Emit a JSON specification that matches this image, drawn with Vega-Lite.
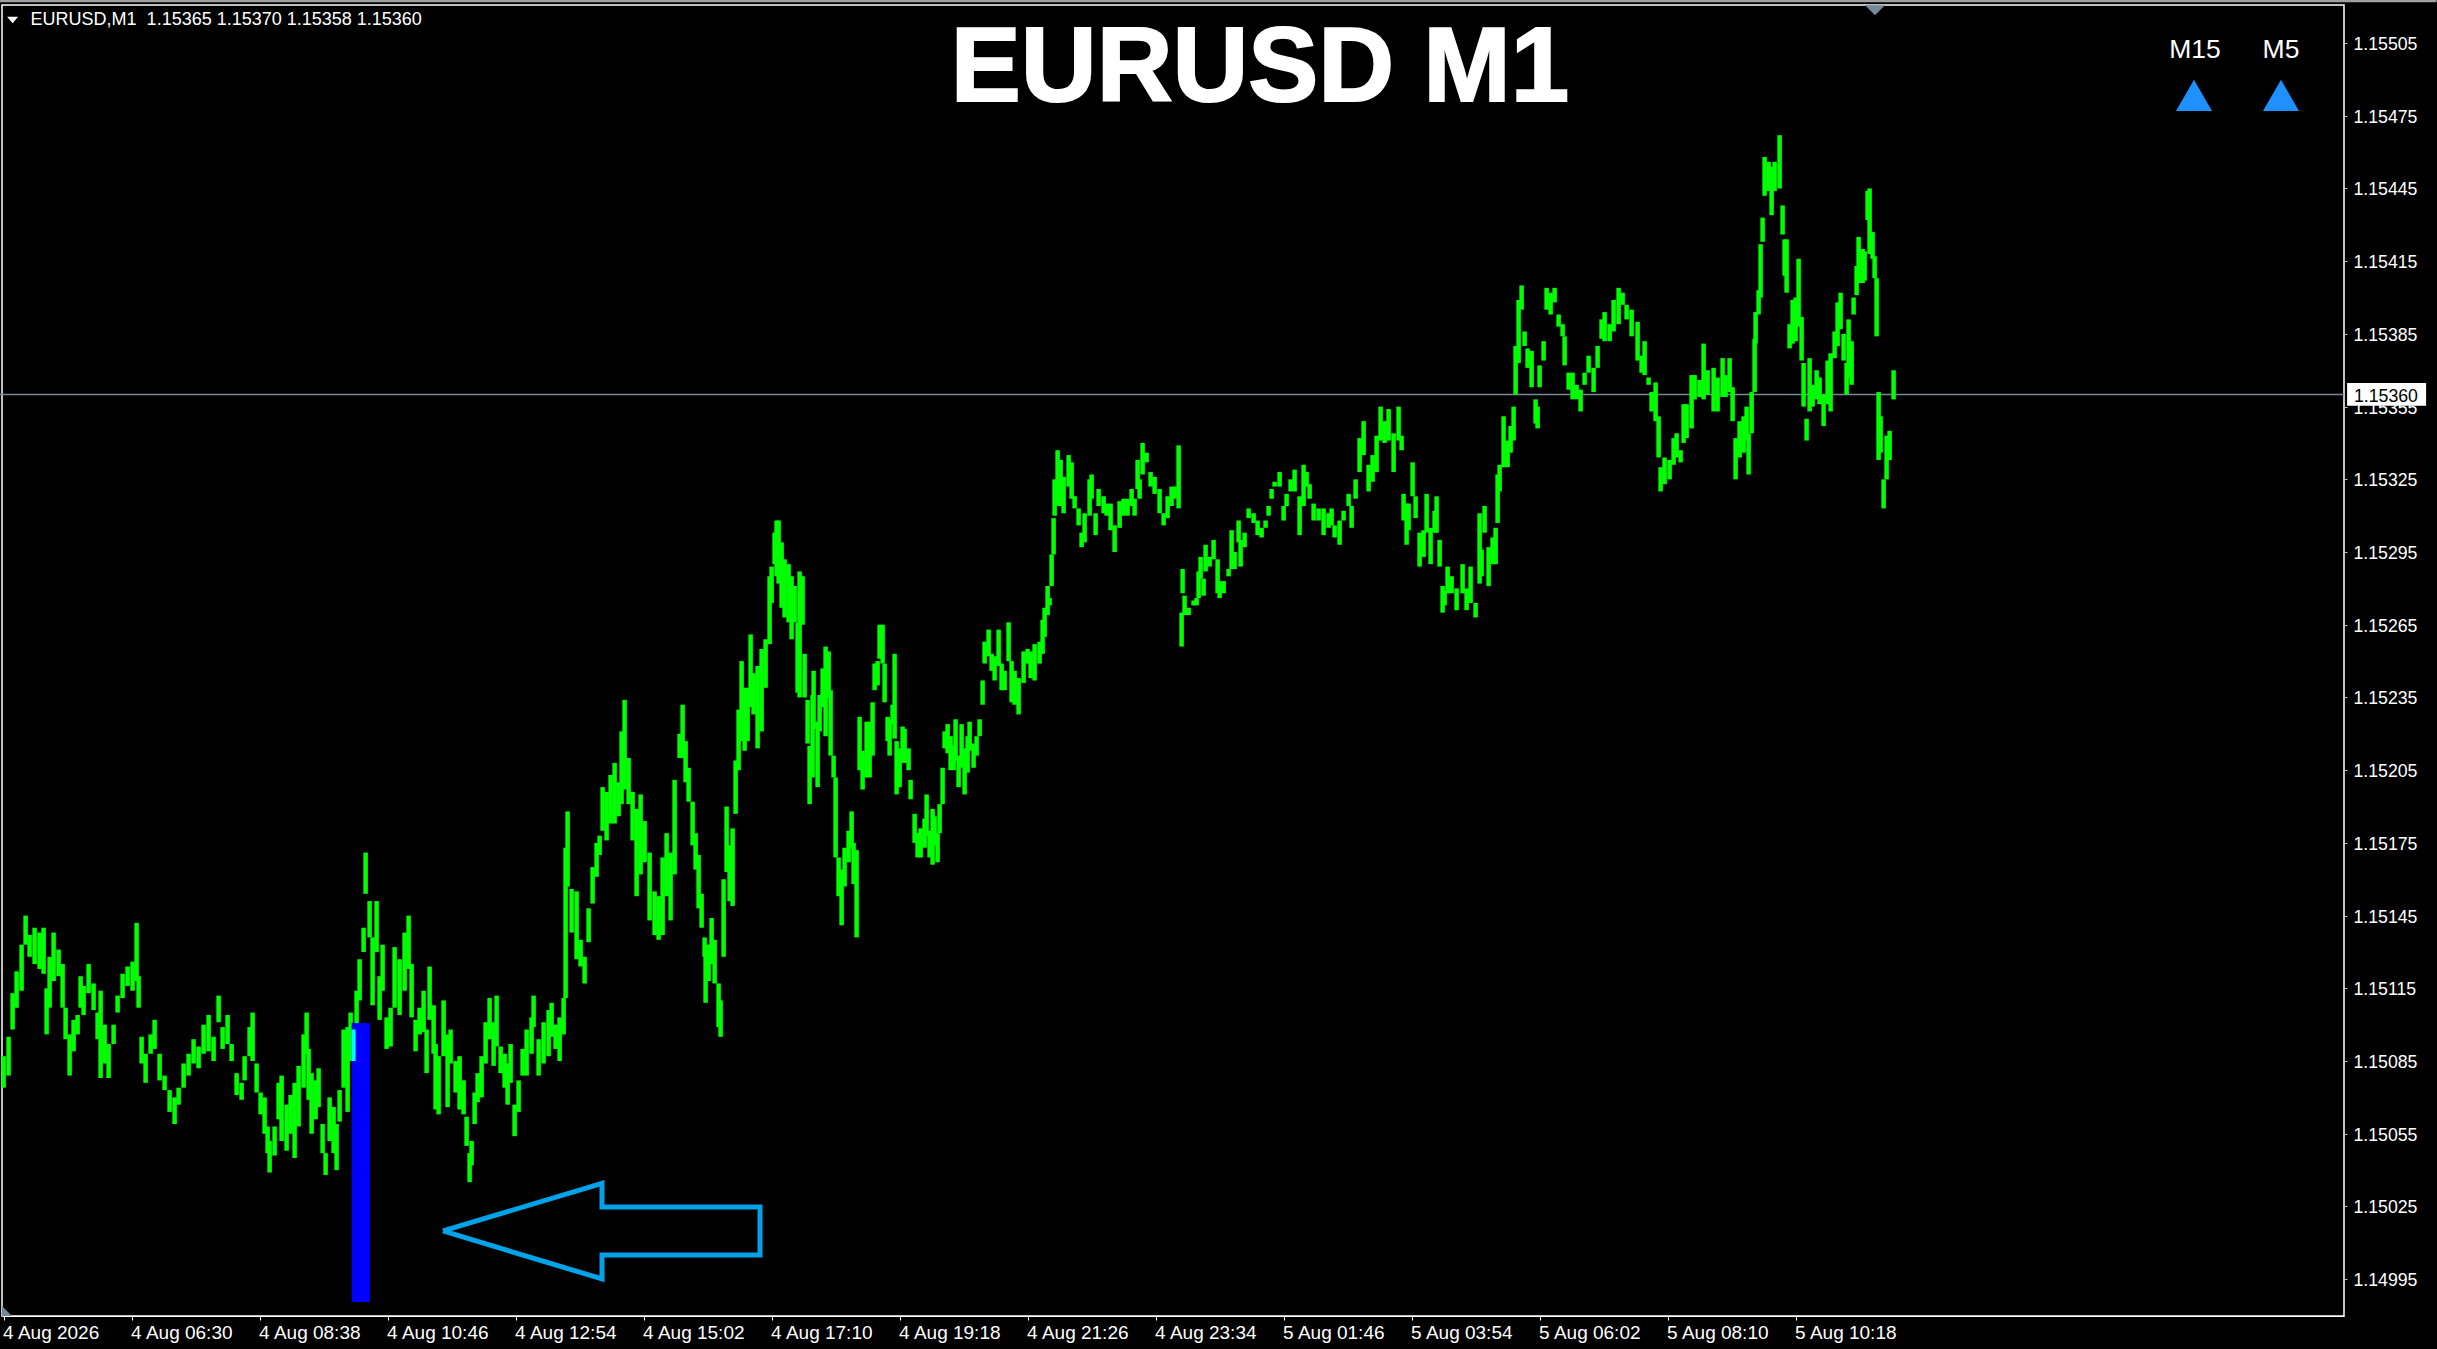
{"$schema":"https://vega.github.io/schema/vega-lite/v6.json","autosize":{"type":"none"},"padding":{"left":2,"top":5,"right":93,"bottom":33},"width":2342,"height":1311,"background":"#000000","view":{"stroke":"#ffffff","strokeWidth":1.5,"fill":"#000000"},
"encoding":{"x":{"field":"bar","type":"quantitative","scale":{"domain":[-1.6,2340.4],"nice":false,"zero":false},"axis":{"title":null,"grid":false,"values":[0,128,256,384,512,640,768,896,1024,1152,1280,1408,1536,1664,1792],"labelExpr":"{'0':'4 Aug 2026','128':'4 Aug 06:30','256':'4 Aug 08:38','384':'4 Aug 10:46','512':'4 Aug 12:54','640':'4 Aug 15:02','768':'4 Aug 17:10','896':'4 Aug 19:18','1024':'4 Aug 21:26','1152':'4 Aug 23:34','1280':'5 Aug 01:46','1408':'5 Aug 03:54','1536':'5 Aug 06:02','1664':'5 Aug 08:10','1792':'5 Aug 10:18'}[datum.value]","labelAlign":"left","labelOffset":-1,"labelFlush":false,"labelOverlap":false,"labelColor":"#ffffff","labelFont":"Liberation Sans","labelFontSize":19,"labelPadding":3,"tickColor":"#ffffff","tickSize":4,"domainColor":"#ffffff"}},
"y":{"field":"price","type":"quantitative","scale":{"domain":[1.149798,1.155207],"nice":false,"zero":false},"axis":{"title":null,"grid":false,"orient":"right","values":[1.14995,1.15025,1.15055,1.15085,1.15115,1.15145,1.15175,1.15205,1.15235,1.15265,1.15295,1.15325,1.15355,1.15385,1.15415,1.15445,1.15475,1.15505],"format":".5f","labelColor":"#ffffff","labelFont":"Liberation Sans","labelFontSize":17.7,"labelPadding":6,"labelOffset":1.5,"labelFlush":false,"labelOverlap":false,"tickColor":"#c0c0c0","tickSize":3,"domainColor":"#c0c0c0"}}},
"layer":[
{"data":{"values":[{"bar":-4,"price":1.155228,"top":1.155218,"end":2433}]},"mark":{"type":"rect","color":"#a0a0a0"},"encoding":{"x2":{"field":"end"},"y2":{"field":"top"}}},
{"data":{"values":[{"bar":0,"price":1.15360}]},"mark":{"type":"rule","color":"#778899","strokeWidth":1.5},"encoding":{"x":{"datum":-4},"x2":{"datum":2340.4}}},
{"data":{"name":"bars","values":[
{"bar":0,"price":1.15074,"top":1.15087},{"bar":5,"price":1.15079,"top":1.15095},{"bar":9,"price":1.15098,"top":1.15113},{"bar":13,"price":1.15107,"top":1.15122},{"bar":18,"price":1.15114,"top":1.15133},{"bar":22,"price":1.15133,"top":1.15145},{"bar":26,"price":1.15128,"top":1.15137},{"bar":31,"price":1.15125,"top":1.15140},{"bar":36,"price":1.15123,"top":1.15138},{"bar":40,"price":1.15121,"top":1.15140},{"bar":43,"price":1.15096,"top":1.15115},{"bar":46,"price":1.15107,"top":1.15128},{"bar":50,"price":1.15118,"top":1.15138},{"bar":55,"price":1.15120,"top":1.15131},{"bar":59,"price":1.15107,"top":1.15125},{"bar":62,"price":1.15094,"top":1.15107},{"bar":66,"price":1.15079,"top":1.15096},{"bar":70,"price":1.15089,"top":1.15102},{"bar":74,"price":1.15096,"top":1.15104},{"bar":77,"price":1.15107,"top":1.15120},{"bar":80,"price":1.15104,"top":1.15116},{"bar":85,"price":1.15113,"top":1.15125},{"bar":90,"price":1.15106,"top":1.15117},{"bar":94,"price":1.15094,"top":1.15105},{"bar":97,"price":1.15078,"top":1.15114},{"bar":101,"price":1.15084,"top":1.15100},{"bar":105,"price":1.15078,"top":1.15092},{"bar":110,"price":1.15092,"top":1.15100},{"bar":114,"price":1.15105,"top":1.15112},{"bar":119,"price":1.15111,"top":1.15121},{"bar":124,"price":1.15116,"top":1.15124},{"bar":129,"price":1.15114,"top":1.15126},{"bar":133,"price":1.15118,"top":1.15142},{"bar":135,"price":1.15107,"top":1.15120},{"bar":138,"price":1.15084,"top":1.15095},{"bar":142,"price":1.15076,"top":1.15088},{"bar":147,"price":1.15088,"top":1.15096},{"bar":151,"price":1.15090,"top":1.15102},{"bar":156,"price":1.15077,"top":1.15088},{"bar":161,"price":1.15073,"top":1.15079},{"bar":166,"price":1.15064,"top":1.15073},{"bar":171,"price":1.15059,"top":1.15070},{"bar":175,"price":1.15067,"top":1.15074},{"bar":180,"price":1.15074,"top":1.15084},{"bar":185,"price":1.15079,"top":1.15088},{"bar":190,"price":1.15084,"top":1.15094},{"bar":195,"price":1.15082,"top":1.15091},{"bar":200,"price":1.15088,"top":1.15100},{"bar":205,"price":1.15089,"top":1.15104},{"bar":210,"price":1.15085,"top":1.15095},{"bar":215,"price":1.15101,"top":1.15112},{"bar":219,"price":1.15090,"top":1.15099},{"bar":224,"price":1.15092,"top":1.15104},{"bar":228,"price":1.15085,"top":1.15092},{"bar":233,"price":1.15071,"top":1.15080},{"bar":238,"price":1.15069,"top":1.15076},{"bar":241,"price":1.15077,"top":1.15087},{"bar":246,"price":1.15087,"top":1.15099},{"bar":249,"price":1.15085,"top":1.15105},{"bar":253,"price":1.15072,"top":1.15084},{"bar":257,"price":1.15063,"top":1.15072},{"bar":261,"price":1.15055,"top":1.15070},{"bar":264,"price":1.15047,"top":1.15058},{"bar":266,"price":1.15039,"top":1.15052},{"bar":271,"price":1.15046,"top":1.15058},{"bar":275,"price":1.15061,"top":1.15076},{"bar":278,"price":1.15052,"top":1.15079},{"bar":283,"price":1.15048,"top":1.15067},{"bar":287,"price":1.15055,"top":1.15071},{"bar":291,"price":1.15045,"top":1.15076},{"bar":295,"price":1.15058,"top":1.15083},{"bar":300,"price":1.15074,"top":1.15096},{"bar":303,"price":1.15088,"top":1.15105},{"bar":305,"price":1.15069,"top":1.15090},{"bar":308,"price":1.15055,"top":1.15080},{"bar":312,"price":1.15061,"top":1.15077},{"bar":315,"price":1.15066,"top":1.15082},{"bar":319,"price":1.15047,"top":1.15059},{"bar":322,"price":1.15038,"top":1.15047},{"bar":326,"price":1.15052,"top":1.15070},{"bar":330,"price":1.15047,"top":1.15066},{"bar":333,"price":1.15040,"top":1.15059},{"bar":336,"price":1.15060,"top":1.15073},{"bar":340,"price":1.15074,"top":1.15098},{"bar":344,"price":1.15064,"top":1.15099},{"bar":347,"price":1.15085,"top":1.15105},{"bar":353,"price":1.15097,"top":1.15114},{"bar":356,"price":1.15110,"top":1.15127},{"bar":360,"price":1.15130,"top":1.15140},{"bar":362,"price":1.15154,"top":1.15171},{"bar":366,"price":1.15136,"top":1.15151},{"bar":369,"price":1.15108,"top":1.15136},{"bar":373,"price":1.15130,"top":1.15151},{"bar":376,"price":1.15102,"top":1.15120},{"bar":379,"price":1.15114,"top":1.15133},{"bar":383,"price":1.15090,"top":1.15103},{"bar":387,"price":1.15091,"top":1.15107},{"bar":391,"price":1.15107,"top":1.15132},{"bar":396,"price":1.15104,"top":1.15127},{"bar":401,"price":1.15114,"top":1.15138},{"bar":405,"price":1.15123,"top":1.15145},{"bar":408,"price":1.15103,"top":1.15125},{"bar":412,"price":1.15089,"top":1.15102},{"bar":416,"price":1.15096,"top":1.15107},{"bar":420,"price":1.15097,"top":1.15114},{"bar":423,"price":1.15080,"top":1.15098},{"bar":426,"price":1.15102,"top":1.15124},{"bar":430,"price":1.15088,"top":1.15108},{"bar":432,"price":1.15065,"top":1.15092},{"bar":435,"price":1.15063,"top":1.15087},{"bar":440,"price":1.15087,"top":1.15110},{"bar":444,"price":1.15066,"top":1.15096},{"bar":447,"price":1.15084,"top":1.15098},{"bar":452,"price":1.15072,"top":1.15085},{"bar":456,"price":1.15065,"top":1.15087},{"bar":460,"price":1.15063,"top":1.15077},{"bar":463,"price":1.15050,"top":1.15062},{"bar":466,"price":1.15035,"top":1.15047},{"bar":468,"price":1.15042,"top":1.15052},{"bar":471,"price":1.15059,"top":1.15072},{"bar":474,"price":1.15068,"top":1.15080},{"bar":478,"price":1.15070,"top":1.15087},{"bar":482,"price":1.15084,"top":1.15101},{"bar":486,"price":1.15094,"top":1.15111},{"bar":490,"price":1.15083,"top":1.15101},{"bar":493,"price":1.15091,"top":1.15112},{"bar":497,"price":1.15080,"top":1.15091},{"bar":501,"price":1.15074,"top":1.15088},{"bar":504,"price":1.15067,"top":1.15084},{"bar":507,"price":1.15076,"top":1.15092},{"bar":511,"price":1.15054,"top":1.15067},{"bar":515,"price":1.15064,"top":1.15077},{"bar":519,"price":1.15079,"top":1.15090},{"bar":523,"price":1.15079,"top":1.15098},{"bar":528,"price":1.15088,"top":1.15103},{"bar":530,"price":1.15099,"top":1.15112},{"bar":535,"price":1.15079,"top":1.15094},{"bar":540,"price":1.15084,"top":1.15101},{"bar":545,"price":1.15087,"top":1.15106},{"bar":548,"price":1.15095,"top":1.15109},{"bar":552,"price":1.15090,"top":1.15100},{"bar":556,"price":1.15085,"top":1.15103},{"bar":560,"price":1.15096,"top":1.15111},{"bar":562,"price":1.15111,"top":1.15173},{"bar":564,"price":1.15157,"top":1.15188},{"bar":568,"price":1.15138,"top":1.15156},{"bar":573,"price":1.15127,"top":1.15155},{"bar":577,"price":1.15124,"top":1.15135},{"bar":581,"price":1.15117,"top":1.15128},{"bar":585,"price":1.15134,"top":1.15148},{"bar":589,"price":1.15150,"top":1.15165},{"bar":593,"price":1.15161,"top":1.15175},{"bar":596,"price":1.15170,"top":1.15178},{"bar":599,"price":1.15180,"top":1.15198},{"bar":603,"price":1.15176,"top":1.15196},{"bar":607,"price":1.15183,"top":1.15203},{"bar":611,"price":1.15183,"top":1.15208},{"bar":615,"price":1.15186,"top":1.15200},{"bar":618,"price":1.15191,"top":1.15221},{"bar":621,"price":1.15197,"top":1.15234},{"bar":625,"price":1.15191,"top":1.15210},{"bar":629,"price":1.15176,"top":1.15196},{"bar":633,"price":1.15153,"top":1.15189},{"bar":637,"price":1.15162,"top":1.15195},{"bar":641,"price":1.15167,"top":1.15184},{"bar":646,"price":1.15143,"top":1.15171},{"bar":651,"price":1.15137,"top":1.15155},{"bar":655,"price":1.15135,"top":1.15153},{"bar":659,"price":1.15137,"top":1.15169},{"bar":663,"price":1.15153,"top":1.15179},{"bar":667,"price":1.15143,"top":1.15171},{"bar":671,"price":1.15162,"top":1.15201},{"bar":676,"price":1.15210,"top":1.15220},{"bar":679,"price":1.15210,"top":1.15232},{"bar":682,"price":1.15200,"top":1.15217},{"bar":685,"price":1.15192,"top":1.15206},{"bar":689,"price":1.15174,"top":1.15192},{"bar":692,"price":1.15164,"top":1.15179},{"bar":695,"price":1.15148,"top":1.15170},{"bar":698,"price":1.15140,"top":1.15154},{"bar":701,"price":1.15128,"top":1.15136},{"bar":702,"price":1.15109,"top":1.15130},{"bar":705,"price":1.15118,"top":1.15133},{"bar":708,"price":1.15125,"top":1.15144},{"bar":711,"price":1.15117,"top":1.15135},{"bar":715,"price":1.15099,"top":1.15117},{"bar":717,"price":1.15095,"top":1.15110},{"bar":720,"price":1.15128,"top":1.15160},{"bar":723,"price":1.15163,"top":1.15190},{"bar":726,"price":1.15151,"top":1.15174},{"bar":729,"price":1.15149,"top":1.15181},{"bar":732,"price":1.15187,"top":1.15209},{"bar":735,"price":1.15205,"top":1.15230},{"bar":738,"price":1.15217,"top":1.15250},{"bar":741,"price":1.15213,"top":1.15239},{"bar":744,"price":1.15217,"top":1.15239},{"bar":747,"price":1.15231,"top":1.15261},{"bar":750,"price":1.15228,"top":1.15245},{"bar":754,"price":1.15214,"top":1.15248},{"bar":758,"price":1.15221,"top":1.15255},{"bar":762,"price":1.15239,"top":1.15259},{"bar":766,"price":1.15257,"top":1.15285},{"bar":768,"price":1.15274,"top":1.15289},{"bar":771,"price":1.15290,"top":1.15303},{"bar":773,"price":1.15285,"top":1.15308},{"bar":775,"price":1.15282,"top":1.15308},{"bar":778,"price":1.15272,"top":1.15299},{"bar":781,"price":1.15268,"top":1.15292},{"bar":785,"price":1.15266,"top":1.15290},{"bar":788,"price":1.15259,"top":1.15285},{"bar":791,"price":1.15266,"top":1.15281},{"bar":794,"price":1.15237,"top":1.15266},{"bar":796,"price":1.15235,"top":1.15287},{"bar":799,"price":1.15265,"top":1.15285},{"bar":801,"price":1.15235,"top":1.15253},{"bar":804,"price":1.15216,"top":1.15234},{"bar":806,"price":1.15191,"top":1.15215},{"bar":809,"price":1.15202,"top":1.15236},{"bar":810,"price":1.15222,"top":1.15246},{"bar":814,"price":1.15198,"top":1.15225},{"bar":816,"price":1.15221,"top":1.15236},{"bar":819,"price":1.15231,"top":1.15247},{"bar":822,"price":1.15219,"top":1.15256},{"bar":825,"price":1.15235,"top":1.15254},{"bar":827,"price":1.15211,"top":1.15238},{"bar":830,"price":1.15202,"top":1.15211},{"bar":832,"price":1.15169,"top":1.15202},{"bar":835,"price":1.15153,"top":1.15169},{"bar":838,"price":1.15141,"top":1.15164},{"bar":841,"price":1.15157,"top":1.15173},{"bar":845,"price":1.15167,"top":1.15180},{"bar":848,"price":1.15173,"top":1.15188},{"bar":850,"price":1.15158,"top":1.15175},{"bar":853,"price":1.15136,"top":1.15172},{"bar":856,"price":1.15205,"top":1.15227},{"bar":859,"price":1.15197,"top":1.15213},{"bar":863,"price":1.15202,"top":1.15225},{"bar":866,"price":1.15202,"top":1.15225},{"bar":869,"price":1.15211,"top":1.15233},{"bar":871,"price":1.15238,"top":1.15249},{"bar":874,"price":1.15240,"top":1.15250},{"bar":876,"price":1.15251,"top":1.15265},{"bar":879,"price":1.15249,"top":1.15265},{"bar":881,"price":1.15233,"top":1.15249},{"bar":884,"price":1.15217,"top":1.15227},{"bar":886,"price":1.15211,"top":1.15226},{"bar":889,"price":1.15224,"top":1.15232},{"bar":891,"price":1.15218,"top":1.15253},{"bar":893,"price":1.15195,"top":1.15217},{"bar":896,"price":1.15198,"top":1.15214},{"bar":899,"price":1.15208,"top":1.15223},{"bar":901,"price":1.15208,"top":1.15222},{"bar":905,"price":1.15205,"top":1.15214},{"bar":907,"price":1.15193,"top":1.15201},{"bar":911,"price":1.15175,"top":1.15187},{"bar":914,"price":1.15169,"top":1.15179},{"bar":917,"price":1.15169,"top":1.15181},{"bar":921,"price":1.15173,"top":1.15185},{"bar":923,"price":1.15178,"top":1.15195},{"bar":926,"price":1.15169,"top":1.15180},{"bar":929,"price":1.15166,"top":1.15189},{"bar":931,"price":1.15174,"top":1.15186},{"bar":934,"price":1.15167,"top":1.15179},{"bar":936,"price":1.15179,"top":1.15191},{"bar":939,"price":1.15191,"top":1.15206},{"bar":941,"price":1.15214,"top":1.15221},{"bar":944,"price":1.15212,"top":1.15224},{"bar":947,"price":1.15205,"top":1.15219},{"bar":950,"price":1.15205,"top":1.15215},{"bar":952,"price":1.15209,"top":1.15226},{"bar":955,"price":1.15198,"top":1.15211},{"bar":958,"price":1.15206,"top":1.15224},{"bar":961,"price":1.15195,"top":1.15214},{"bar":964,"price":1.15204,"top":1.15219},{"bar":966,"price":1.15213,"top":1.15225},{"bar":970,"price":1.15206,"top":1.15216},{"bar":973,"price":1.15211,"top":1.15219},{"bar":976,"price":1.15219,"top":1.15226},{"bar":979,"price":1.15232,"top":1.15242},{"bar":981,"price":1.15249,"top":1.15258},{"bar":985,"price":1.15252,"top":1.15263},{"bar":988,"price":1.15246,"top":1.15253},{"bar":991,"price":1.15242,"top":1.15252},{"bar":995,"price":1.15248,"top":1.15263},{"bar":998,"price":1.15238,"top":1.15249},{"bar":1001,"price":1.15238,"top":1.15246},{"bar":1005,"price":1.15250,"top":1.15266},{"bar":1008,"price":1.15233,"top":1.15250},{"bar":1011,"price":1.15232,"top":1.15246},{"bar":1015,"price":1.15228,"top":1.15243},{"bar":1020,"price":1.15241,"top":1.15254},{"bar":1024,"price":1.15249,"top":1.15255},{"bar":1027,"price":1.15243,"top":1.15254},{"bar":1031,"price":1.15242,"top":1.15257},{"bar":1036,"price":1.15249,"top":1.15258},{"bar":1039,"price":1.15253,"top":1.15267},{"bar":1041,"price":1.15260,"top":1.15272},{"bar":1044,"price":1.15269,"top":1.15281},{"bar":1046,"price":1.15273,"top":1.15276},{"bar":1048,"price":1.15281,"top":1.15294},{"bar":1050,"price":1.15294,"top":1.15309},{"bar":1051,"price":1.15310,"top":1.15325},{"bar":1054,"price":1.15314,"top":1.15337},{"bar":1057,"price":1.15314,"top":1.15333},{"bar":1060,"price":1.15311,"top":1.15326},{"bar":1065,"price":1.15322,"top":1.15335},{"bar":1068,"price":1.15317,"top":1.15332},{"bar":1071,"price":1.15313,"top":1.15318},{"bar":1075,"price":1.15306,"top":1.15313},{"bar":1078,"price":1.15297,"top":1.15303},{"bar":1081,"price":1.15299,"top":1.15311},{"bar":1086,"price":1.15310,"top":1.15325},{"bar":1088,"price":1.15317,"top":1.15327},{"bar":1092,"price":1.15302,"top":1.15311},{"bar":1095,"price":1.15314,"top":1.15321},{"bar":1100,"price":1.15311,"top":1.15318},{"bar":1103,"price":1.15310,"top":1.15315},{"bar":1107,"price":1.15304,"top":1.15315},{"bar":1111,"price":1.15295,"top":1.15306},{"bar":1116,"price":1.15305,"top":1.15316},{"bar":1120,"price":1.15310,"top":1.15317},{"bar":1124,"price":1.15310,"top":1.15317},{"bar":1128,"price":1.15314,"top":1.15321},{"bar":1131,"price":1.15310,"top":1.15317},{"bar":1134,"price":1.15321,"top":1.15333},{"bar":1136,"price":1.15317,"top":1.15325},{"bar":1139,"price":1.15327,"top":1.15340},{"bar":1143,"price":1.15332,"top":1.15336},{"bar":1147,"price":1.15322,"top":1.15328},{"bar":1151,"price":1.15319,"top":1.15326},{"bar":1156,"price":1.15311,"top":1.15321},{"bar":1160,"price":1.15306,"top":1.15311},{"bar":1164,"price":1.15309,"top":1.15318},{"bar":1168,"price":1.15314,"top":1.15322},{"bar":1171,"price":1.15317,"top":1.15322},{"bar":1175,"price":1.15313,"top":1.15339},{"bar":1178,"price":1.15256,"top":1.15270},{"bar":1179,"price":1.15278,"top":1.15288},{"bar":1181,"price":1.15269,"top":1.15277},{"bar":1185,"price":1.15269,"top":1.15272},{"bar":1190,"price":1.15273,"top":1.15275},{"bar":1193,"price":1.15273,"top":1.15276},{"bar":1195,"price":1.15276,"top":1.15287},{"bar":1197,"price":1.15284,"top":1.15293},{"bar":1200,"price":1.15277,"top":1.15284},{"bar":1202,"price":1.15287,"top":1.15298},{"bar":1206,"price":1.15289,"top":1.15293},{"bar":1210,"price":1.15292,"top":1.15300},{"bar":1214,"price":1.15278,"top":1.15292},{"bar":1216,"price":1.15276,"top":1.15283},{"bar":1220,"price":1.15278,"top":1.15283},{"bar":1225,"price":1.15285,"top":1.15288},{"bar":1228,"price":1.15288,"top":1.15304},{"bar":1231,"price":1.15288,"top":1.15295},{"bar":1235,"price":1.15299,"top":1.15308},{"bar":1237,"price":1.15289,"top":1.15300},{"bar":1241,"price":1.15297,"top":1.15303},{"bar":1245,"price":1.15309,"top":1.15313},{"bar":1250,"price":1.15307,"top":1.15311},{"bar":1254,"price":1.15302,"top":1.15308},{"bar":1258,"price":1.15301,"top":1.15305},{"bar":1262,"price":1.15305,"top":1.15308},{"bar":1265,"price":1.15310,"top":1.15314},{"bar":1268,"price":1.15317,"top":1.15321},{"bar":1271,"price":1.15322,"top":1.15324},{"bar":1276,"price":1.15322,"top":1.15328},{"bar":1280,"price":1.15308,"top":1.15314},{"bar":1283,"price":1.15314,"top":1.15319},{"bar":1287,"price":1.15320,"top":1.15325},{"bar":1291,"price":1.15320,"top":1.15329},{"bar":1296,"price":1.15302,"top":1.15318},{"bar":1300,"price":1.15314,"top":1.15331},{"bar":1303,"price":1.15322,"top":1.15328},{"bar":1306,"price":1.15317,"top":1.15323},{"bar":1310,"price":1.15308,"top":1.15315},{"bar":1315,"price":1.15308,"top":1.15313},{"bar":1320,"price":1.15302,"top":1.15313},{"bar":1325,"price":1.15305,"top":1.15311},{"bar":1328,"price":1.15306,"top":1.15313},{"bar":1331,"price":1.15301,"top":1.15306},{"bar":1336,"price":1.15298,"top":1.15308},{"bar":1340,"price":1.15308,"top":1.15312},{"bar":1345,"price":1.15314,"top":1.15319},{"bar":1348,"price":1.15305,"top":1.15314},{"bar":1352,"price":1.15317,"top":1.15325},{"bar":1356,"price":1.15328,"top":1.15342},{"bar":1360,"price":1.15335,"top":1.15349},{"bar":1365,"price":1.15320,"top":1.15331},{"bar":1369,"price":1.15324,"top":1.15335},{"bar":1373,"price":1.15328,"top":1.15343},{"bar":1377,"price":1.15341,"top":1.15355},{"bar":1381,"price":1.15340,"top":1.15349},{"bar":1385,"price":1.15341,"top":1.15354},{"bar":1390,"price":1.15328,"top":1.15344},{"bar":1395,"price":1.15341,"top":1.15355},{"bar":1398,"price":1.15337,"top":1.15343},{"bar":1400,"price":1.15308,"top":1.15319},{"bar":1403,"price":1.15298,"top":1.15315},{"bar":1405,"price":1.15304,"top":1.15315},{"bar":1409,"price":1.15318,"top":1.15332},{"bar":1412,"price":1.15309,"top":1.15318},{"bar":1416,"price":1.15289,"top":1.15303},{"bar":1420,"price":1.15293,"top":1.15304},{"bar":1423,"price":1.15303,"top":1.15319},{"bar":1427,"price":1.15290,"top":1.15305},{"bar":1431,"price":1.15303,"top":1.15312},{"bar":1433,"price":1.15303,"top":1.15318},{"bar":1436,"price":1.15289,"top":1.15300},{"bar":1439,"price":1.15270,"top":1.15281},{"bar":1441,"price":1.15273,"top":1.15279},{"bar":1444,"price":1.15278,"top":1.15289},{"bar":1448,"price":1.15278,"top":1.15285},{"bar":1453,"price":1.15271,"top":1.15280},{"bar":1459,"price":1.15278,"top":1.15290},{"bar":1463,"price":1.15271,"top":1.15280},{"bar":1467,"price":1.15274,"top":1.15289},{"bar":1472,"price":1.15268,"top":1.15274},{"bar":1476,"price":1.15282,"top":1.15311},{"bar":1478,"price":1.15285,"top":1.15296},{"bar":1481,"price":1.15303,"top":1.15314},{"bar":1485,"price":1.15281,"top":1.15297},{"bar":1489,"price":1.15290,"top":1.15301},{"bar":1492,"price":1.15290,"top":1.15305},{"bar":1494,"price":1.15307,"top":1.15327},{"bar":1496,"price":1.15320,"top":1.15331},{"bar":1500,"price":1.15330,"top":1.15351},{"bar":1504,"price":1.15330,"top":1.15341},{"bar":1507,"price":1.15336,"top":1.15347},{"bar":1510,"price":1.15341,"top":1.15355},{"bar":1512,"price":1.15360,"top":1.15380},{"bar":1515,"price":1.15373,"top":1.15399},{"bar":1518,"price":1.15395,"top":1.15405},{"bar":1521,"price":1.15380,"top":1.15386},{"bar":1524,"price":1.15371,"top":1.15379},{"bar":1528,"price":1.15363,"top":1.15378},{"bar":1532,"price":1.15348,"top":1.15358},{"bar":1534,"price":1.15346,"top":1.15355},{"bar":1536,"price":1.15363,"top":1.15372},{"bar":1540,"price":1.15374,"top":1.15382},{"bar":1543,"price":1.15395,"top":1.15404},{"bar":1547,"price":1.15393,"top":1.15402},{"bar":1551,"price":1.15398,"top":1.15404},{"bar":1555,"price":1.15388,"top":1.15393},{"bar":1559,"price":1.15384,"top":1.15389},{"bar":1561,"price":1.15372,"top":1.15384},{"bar":1565,"price":1.15362,"top":1.15369},{"bar":1569,"price":1.15358,"top":1.15369},{"bar":1573,"price":1.15358,"top":1.15364},{"bar":1577,"price":1.15353,"top":1.15362},{"bar":1581,"price":1.15364,"top":1.15369},{"bar":1585,"price":1.15369,"top":1.15376},{"bar":1590,"price":1.15361,"top":1.15371},{"bar":1594,"price":1.15371,"top":1.15380},{"bar":1598,"price":1.15383,"top":1.15391},{"bar":1601,"price":1.15382,"top":1.15394},{"bar":1606,"price":1.15382,"top":1.15389},{"bar":1610,"price":1.15386,"top":1.15399},{"bar":1615,"price":1.15389,"top":1.15404},{"bar":1619,"price":1.15397,"top":1.15402},{"bar":1623,"price":1.15391,"top":1.15397},{"bar":1628,"price":1.15384,"top":1.15395},{"bar":1634,"price":1.15374,"top":1.15390},{"bar":1638,"price":1.15369,"top":1.15376},{"bar":1641,"price":1.15368,"top":1.15382},{"bar":1645,"price":1.15364,"top":1.15367},{"bar":1648,"price":1.15353,"top":1.15361},{"bar":1652,"price":1.15349,"top":1.15365},{"bar":1655,"price":1.15334,"top":1.15351},{"bar":1657,"price":1.15320,"top":1.15330},{"bar":1661,"price":1.15323,"top":1.15334},{"bar":1666,"price":1.15325,"top":1.15333},{"bar":1670,"price":1.15331,"top":1.15342},{"bar":1673,"price":1.15334,"top":1.15344},{"bar":1677,"price":1.15332,"top":1.15337},{"bar":1680,"price":1.15340,"top":1.15356},{"bar":1683,"price":1.15342,"top":1.15356},{"bar":1688,"price":1.15346,"top":1.15368},{"bar":1691,"price":1.15358,"top":1.15368},{"bar":1696,"price":1.15359,"top":1.15366},{"bar":1700,"price":1.15358,"top":1.15381},{"bar":1704,"price":1.15360,"top":1.15370},{"bar":1710,"price":1.15353,"top":1.15371},{"bar":1714,"price":1.15353,"top":1.15367},{"bar":1719,"price":1.15359,"top":1.15375},{"bar":1722,"price":1.15359,"top":1.15368},{"bar":1726,"price":1.15361,"top":1.15375},{"bar":1729,"price":1.15349,"top":1.15363},{"bar":1732,"price":1.15325,"top":1.15342},{"bar":1736,"price":1.15334,"top":1.15349},{"bar":1740,"price":1.15336,"top":1.15351},{"bar":1743,"price":1.15341,"top":1.15355},{"bar":1745,"price":1.15327,"top":1.15344},{"bar":1748,"price":1.15344,"top":1.15361},{"bar":1751,"price":1.15361,"top":1.15383},{"bar":1752,"price":1.15381,"top":1.15394},{"bar":1755,"price":1.15393,"top":1.15403},{"bar":1757,"price":1.15400,"top":1.15422},{"bar":1759,"price":1.15423,"top":1.15433},{"bar":1761,"price":1.15442,"top":1.15458},{"bar":1765,"price":1.15444,"top":1.15456},{"bar":1768,"price":1.15434,"top":1.15454},{"bar":1771,"price":1.15444,"top":1.15456},{"bar":1776,"price":1.15445,"top":1.15467},{"bar":1779,"price":1.15426,"top":1.15438},{"bar":1781,"price":1.15409,"top":1.15424},{"bar":1783,"price":1.15402,"top":1.15424},{"bar":1786,"price":1.15379,"top":1.15389},{"bar":1789,"price":1.15381,"top":1.15399},{"bar":1792,"price":1.15382,"top":1.15400},{"bar":1795,"price":1.15388,"top":1.15416},{"bar":1798,"price":1.15374,"top":1.15392},{"bar":1800,"price":1.15355,"top":1.15373},{"bar":1803,"price":1.15341,"top":1.15350},{"bar":1806,"price":1.15353,"top":1.15375},{"bar":1809,"price":1.15355,"top":1.15364},{"bar":1813,"price":1.15358,"top":1.15370},{"bar":1816,"price":1.15356,"top":1.15367},{"bar":1820,"price":1.15347,"top":1.15360},{"bar":1824,"price":1.15356,"top":1.15374},{"bar":1827,"price":1.15353,"top":1.15377},{"bar":1831,"price":1.15375,"top":1.15386},{"bar":1834,"price":1.15380,"top":1.15398},{"bar":1837,"price":1.15387,"top":1.15402},{"bar":1840,"price":1.15374,"top":1.15385},{"bar":1843,"price":1.15360,"top":1.15373},{"bar":1845,"price":1.15367,"top":1.15391},{"bar":1848,"price":1.15364,"top":1.15382},{"bar":1850,"price":1.15393,"top":1.15400},{"bar":1853,"price":1.15401,"top":1.15413},{"bar":1855,"price":1.15406,"top":1.15425},{"bar":1859,"price":1.15406,"top":1.15420},{"bar":1861,"price":1.15407,"top":1.15419},{"bar":1864,"price":1.15432,"top":1.15444},{"bar":1866,"price":1.15418,"top":1.15445},{"bar":1869,"price":1.15416,"top":1.15427},{"bar":1871,"price":1.15408,"top":1.15417},{"bar":1873,"price":1.15384,"top":1.15408},{"bar":1875,"price":1.15333,"top":1.15361},{"bar":1877,"price":1.15336,"top":1.15351},{"bar":1880,"price":1.15313,"top":1.15325},{"bar":1883,"price":1.15325,"top":1.15343},{"bar":1886,"price":1.15333,"top":1.15345},{"bar":1890,"price":1.15358,"top":1.15370}
]},"mark":{"type":"rule","color":"#00ff00","strokeWidth":4.5},"encoding":{"y2":{"field":"top"}}},
{"data":{"values":[{"bar":348.1,"price":1.149856,"top":1.151007,"end":366.4}]},"mark":{"type":"rect","color":"#0000ff"},"encoding":{"x2":{"field":"end"},"y2":{"field":"top"}}},
{"data":{"values":[{"bar":350,"price":1.15085,"top":1.15098}]},"mark":{"type":"rule","color":"#00ffff","strokeWidth":4},"encoding":{"y2":{"field":"top"}}},
{"data":{"values":[{"bar":439.4,"price":1.150149,"step":0},{"bar":598.4,"price":1.150345,"step":1},{"bar":598.4,"price":1.150248,"step":2},{"bar":756.4,"price":1.150248,"step":3},{"bar":756.4,"price":1.15005,"step":4},{"bar":598.4,"price":1.15005,"step":5},{"bar":598.4,"price":1.149951,"step":6},{"bar":439.4,"price":1.150149,"step":7}]},"mark":{"type":"line","color":"#00a2e8","strokeWidth":5,"strokeJoin":"miter"},"encoding":{"order":{"field":"step","type":"ordinal"}}},
{"data":{"values":[{"bar":2343.5,"price":1.153554,"top":1.153647,"end":2422.5}]},"mark":{"type":"rect","color":"#ffffff"},"encoding":{"x2":{"field":"end"},"y2":{"field":"top"}}},
{"data":{"values":[{"bar":2350.4,"price":1.15359,"label":"1.15360"}]},"mark":{"type":"text","align":"left","baseline":"middle","font":"Liberation Sans","fontSize":17.7,"color":"#000000"},"encoding":{"text":{"field":"label"}}},
{"data":{"values":[{"bar":1256.4,"price":1.154943,"label":"EURUSD M1"}]},"mark":{"type":"text","align":"center","baseline":"middle","font":"Liberation Sans","fontWeight":"bold","fontSize":105,"color":"#ffffff","stroke":"#ffffff","strokeWidth":2},"encoding":{"text":{"field":"label"}}},
{"data":{"values":[{"bar":27,"price":1.155145,"label":"EURUSD,M1\u00a0\u00a01.15365 1.15370 1.15358 1.15360"}]},"mark":{"type":"text","align":"left","baseline":"middle","font":"Liberation Sans","fontSize":18,"color":"#ffffff"},"encoding":{"text":{"field":"label"}}},
{"data":{"values":[{"bar":2191.4,"price":1.15502,"label":"M15"},{"bar":2277.4,"price":1.15502,"label":"M5"}]},"mark":{"type":"text","align":"center","baseline":"middle","font":"Liberation Sans","fontSize":26.5,"color":"#ffffff"},"encoding":{"text":{"field":"label"}}},
{"data":{"values":[{"bar":2190.4,"price":1.154834},{"bar":2277.4,"price":1.154834}]},"mark":{"type":"point","shape":"triangle-up","size":1296,"filled":true,"color":"#1e90ff","opacity":1}},
{"data":{"values":[{"bar":9,"price":1.155145}]},"mark":{"type":"point","shape":"M -1 -0.6 L 1 -0.6 L 0 0.6 Z","size":121,"filled":true,"color":"#ffffff","opacity":1}},
{"data":{"values":[{"bar":1871.4,"price":1.155185}]},"mark":{"type":"point","shape":"M -1 -0.5 L 1 -0.5 L 0 0.5 Z","size":400,"filled":true,"color":"#778899","opacity":1}},
{"data":{"values":[{"bar":3.4,"price":1.149819}]},"mark":{"type":"point","shape":"M -1 -1 L 1 1 L -1 1 Z","size":100,"filled":true,"color":"#778899","opacity":1}}
]}
